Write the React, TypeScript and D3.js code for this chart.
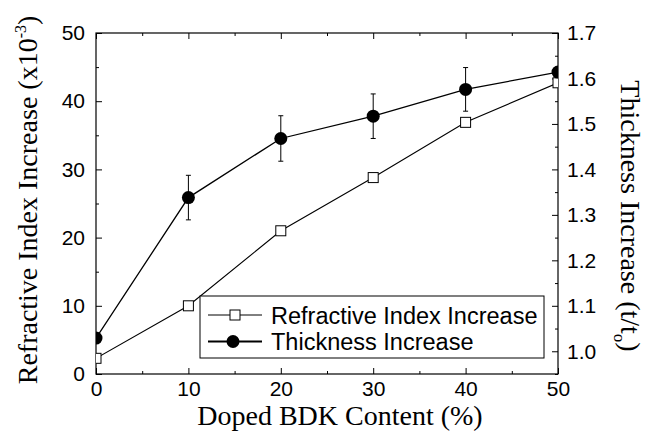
import React, { useRef, useEffect } from 'react';
import * as d3 from 'd3';

// BDK content (%) on the bottom axis
const contents = [0, 10, 20, 30, 40, 50];
// refractive index increase (x10^-3), left axis, open squares
const refractiveIndex = [2.3, 10, 21, 28.8, 36.9, 42.7];
// thickness increase t/t0, right axis, filled circles
const thickness = [1.029, 1.338, 1.468, 1.517, 1.576, 1.614];
const thicknessErr = [0, 0.049, 0.05, 0.049, 0.048, 0];

const xTicks = [0, 10, 20, 30, 40, 50];
const xMinor = [5, 15, 25, 35, 45];
const leftTicks = [0, 10, 20, 30, 40, 50];
const leftMinor = [5, 15, 25, 35, 45];
const rightTicks = [1.0, 1.1, 1.2, 1.3, 1.4, 1.5, 1.6, 1.7];
const rightMinor = [0.95, 1.05, 1.15, 1.25, 1.35, 1.45, 1.55, 1.65];

const legendItems = ['Refractive Index Increase', 'Thickness Increase'];

const sans = '"Liberation Sans", Arial, Helvetica, sans-serif';
const serif = '"Liberation Serif", "Times New Roman", serif';

const App = () => {
  const svgRef = useRef(null);

  useEffect(() => {
    const svg = d3.select(svgRef.current);
    svg.selectAll('*').remove();

    const width = 648;
    const height = 431;
    const marginLeft = 96;
    const marginRight = width - 558;
    const marginTop = 33;
    const marginBottom = height - 374;

    const x = d3.scaleLinear().domain([0, 50]).range([marginLeft, width - marginRight]);
    const yL = d3.scaleLinear().domain([0, 50]).range([height - marginBottom, marginTop]);
    const yR = d3.scaleLinear().domain([0.95, 1.7]).range([height - marginBottom, marginTop]);

    svg.append('rect').attr('width', width).attr('height', height).attr('fill', 'white');

    // clip so the end markers are cut by the frame, like in the original
    svg.append('defs').append('clipPath').attr('id', 'plot-clip')
      .append('rect')
      .attr('x', marginLeft).attr('y', marginTop)
      .attr('width', x.range()[1] - marginLeft)
      .attr('height', yL.range()[0] - marginTop);

    const styleAxis = (g, withLabels) => {
      g.select('.domain').remove();
      g.selectAll('line').attr('stroke', '#000').attr('stroke-width', 1);
      if (withLabels) {
        g.selectAll('text')
          .attr('fill', '#000')
          .style('font-family', sans)
          .style('font-size', '21px');
      }
    };

    const bottomY = height - marginBottom;
    const rightX = width - marginRight;

    // bottom axis
    svg.append('g').attr('transform', `translate(0,${bottomY})`)
      .call(d3.axisBottom(x).tickValues(xTicks).tickSize(-6).tickPadding(7).tickFormat(d3.format('d')))
      .call(g => styleAxis(g, true));
    svg.append('g').attr('transform', `translate(0,${bottomY})`)
      .call(d3.axisBottom(x).tickValues(xMinor).tickSize(-3).tickFormat(''))
      .call(g => styleAxis(g, false));
    // top axis, ticks only
    svg.append('g').attr('transform', `translate(0,${marginTop})`)
      .call(d3.axisTop(x).tickValues(xTicks).tickSize(-6).tickFormat(''))
      .call(g => styleAxis(g, false));
    svg.append('g').attr('transform', `translate(0,${marginTop})`)
      .call(d3.axisTop(x).tickValues(xMinor).tickSize(-3).tickFormat(''))
      .call(g => styleAxis(g, false));
    // left axis
    svg.append('g').attr('transform', `translate(${marginLeft},0)`)
      .call(d3.axisLeft(yL).tickValues(leftTicks).tickSize(-6).tickPadding(11).tickFormat(d3.format('d')))
      .call(g => styleAxis(g, true));
    svg.append('g').attr('transform', `translate(${marginLeft},0)`)
      .call(d3.axisLeft(yL).tickValues(leftMinor).tickSize(-3).tickFormat(''))
      .call(g => styleAxis(g, false));
    // right axis
    svg.append('g').attr('transform', `translate(${rightX},0)`)
      .call(d3.axisRight(yR).tickValues(rightTicks).tickSize(-6).tickPadding(9).tickFormat(d3.format('.1f')))
      .call(g => styleAxis(g, true));
    svg.append('g').attr('transform', `translate(${rightX},0)`)
      .call(d3.axisRight(yR).tickValues(rightMinor).tickSize(-3).tickFormat(''))
      .call(g => styleAxis(g, false));

    // frame
    svg.append('rect')
      .attr('x', marginLeft).attr('y', marginTop)
      .attr('width', rightX - marginLeft).attr('height', bottomY - marginTop)
      .attr('fill', 'none').attr('stroke', '#000').attr('stroke-width', 1.2);

    const plot = svg.append('g').attr('clip-path', 'url(#plot-clip)');

    const lineL = d3.line().x((d, i) => x(contents[i])).y(d => yL(d));
    const lineR = d3.line().x((d, i) => x(contents[i])).y(d => yR(d));

    plot.append('path').datum(refractiveIndex)
      .attr('d', lineL).attr('fill', 'none').attr('stroke', '#000').attr('stroke-width', 1.1);
    plot.append('path').datum(thickness)
      .attr('d', lineR).attr('fill', 'none').attr('stroke', '#000').attr('stroke-width', 1.3);

    // error bars on the thickness points
    const errs = plot.append('g').attr('stroke', '#000').attr('stroke-width', 1);
    thickness.forEach((v, i) => {
      const e = thicknessErr[i];
      if (!e) return;
      const cx = x(contents[i]);
      errs.append('line').attr('x1', cx).attr('x2', cx).attr('y1', yR(v - e)).attr('y2', yR(v + e));
      errs.append('line').attr('x1', cx - 2.5).attr('x2', cx + 2.5).attr('y1', yR(v - e)).attr('y2', yR(v - e));
      errs.append('line').attr('x1', cx - 2.5).attr('x2', cx + 2.5).attr('y1', yR(v + e)).attr('y2', yR(v + e));
    });

    plot.selectAll('rect.sq').data(refractiveIndex).join('rect')
      .attr('class', 'sq')
      .attr('x', (d, i) => x(contents[i]) - 5)
      .attr('y', d => yL(d) - 5)
      .attr('width', 10).attr('height', 10)
      .attr('fill', 'white').attr('stroke', '#000').attr('stroke-width', 1);

    plot.selectAll('circle').data(thickness).join('circle')
      .attr('cx', (d, i) => x(contents[i]))
      .attr('cy', d => yR(d))
      .attr('r', 6.5)
      .attr('fill', '#000');

    // legend
    const legend = svg.append('g');
    legend.append('rect')
      .attr('x', 200).attr('y', 296).attr('width', 344).attr('height', 62)
      .attr('fill', 'white').attr('stroke', '#000').attr('stroke-width', 1);
    const rowY = [315, 341.5];
    legendItems.forEach((label, i) => {
      legend.append('line')
        .attr('x1', 208).attr('x2', 262).attr('y1', rowY[i]).attr('y2', rowY[i])
        .attr('stroke', '#000').attr('stroke-width', i === 0 ? 1 : 1.8);
      if (i === 0) {
        legend.append('rect').attr('x', 230).attr('y', rowY[i] - 5).attr('width', 10).attr('height', 10)
          .attr('fill', 'white').attr('stroke', '#000');
      } else {
        legend.append('circle').attr('cx', 233).attr('cy', rowY[i]).attr('r', 6.5).attr('fill', '#000');
      }
      legend.append('text')
        .attr('x', 271).attr('y', rowY[i] + 8.5)
        .style('font-family', sans).style('font-size', '23.5px')
        .text(label);
    });

    // axis titles
    svg.append('text')
      .attr('x', 340).attr('y', 425)
      .attr('text-anchor', 'middle')
      .style('font-family', serif).style('font-size', '28px')
      .text('Doped BDK Content (%)');

    const leftTitle = svg.append('text')
      .attr('transform', 'translate(37,200) rotate(-90)')
      .attr('text-anchor', 'middle')
      .style('font-family', serif).style('font-size', '28px');
    leftTitle.append('tspan').text('Refractive Index Increase (x10');
    leftTitle.append('tspan').attr('dy', -11).style('font-size', '16px').text('-3');
    leftTitle.append('tspan').attr('dy', 11).text(')');

    const rightTitle = svg.append('text')
      .attr('transform', 'translate(621,216) rotate(90)')
      .attr('text-anchor', 'middle')
      .style('font-family', serif).style('font-size', '28px');
    rightTitle.append('tspan').text('Thickness Increase (t/t');
    rightTitle.append('tspan').attr('dy', 7).style('font-size', '17px').text('o');
    rightTitle.append('tspan').attr('dy', -7).text(')');
  }, []);

  return (
    <svg ref={svgRef} width={648} height={431}
      style={{ position: 'absolute', left: 0, top: 0, display: 'block' }} />
  );
};

export default App;
